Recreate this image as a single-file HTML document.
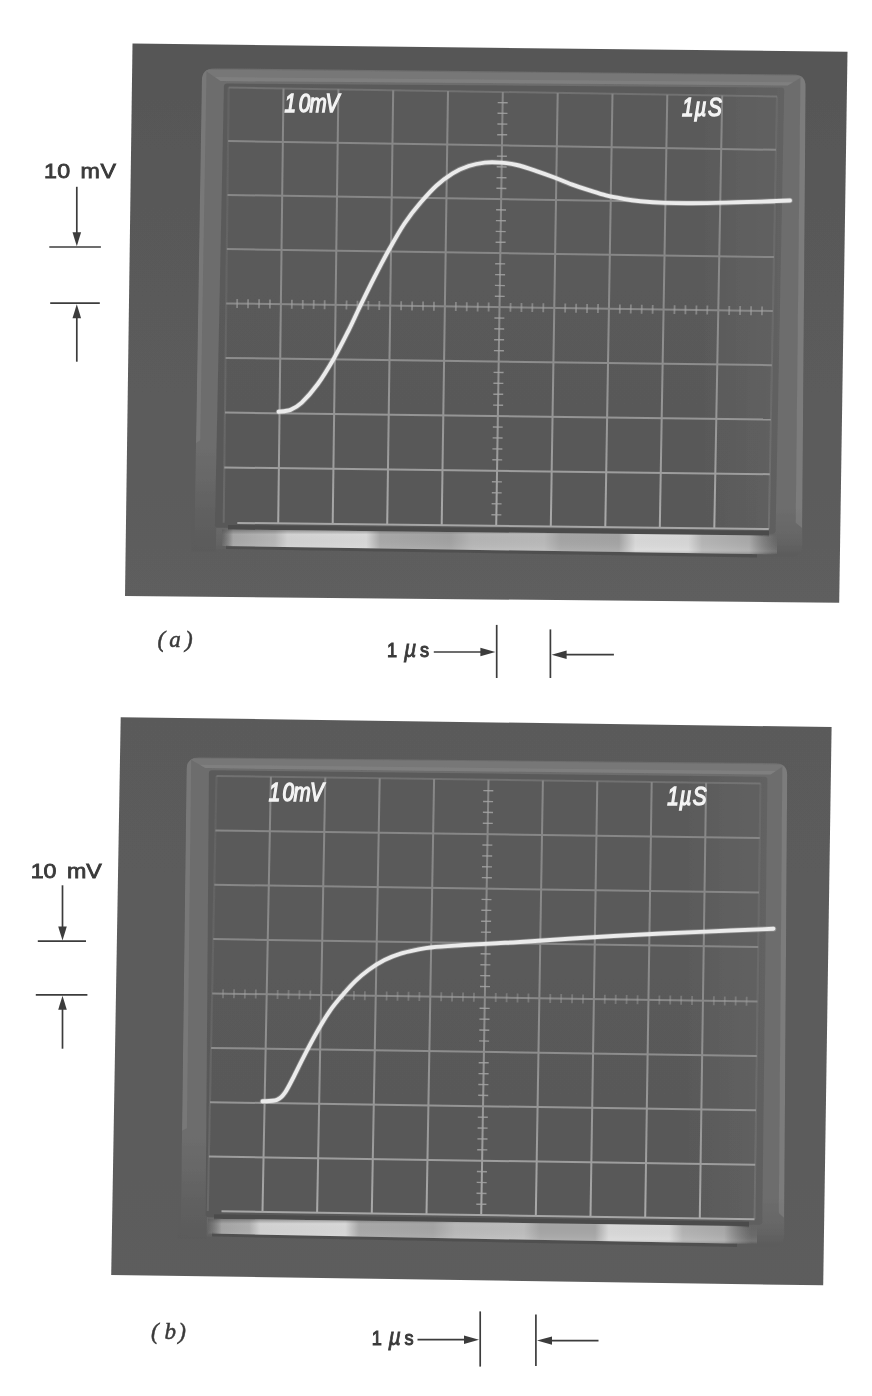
<!DOCTYPE html>
<html lang="en">
<head>
<meta charset="utf-8">
<title>Oscilloscope step responses (a) and (b)</title>
<style>
html,body{margin:0;padding:0;background:#fff;}
body{width:872px;height:1396px;overflow:hidden;position:relative;}
svg{display:block;position:absolute;left:0;top:0;}
.lab{font-family:"Liberation Sans",sans-serif;font-size:20.2px;fill:#3a3a3a;stroke:#3a3a3a;stroke-width:0.8px;}
.lab2{font-family:"Liberation Sans",sans-serif;font-size:20.2px;fill:#3a3a3a;stroke:#3a3a3a;stroke-width:1px;}
.ro{font-family:"Liberation Sans",sans-serif;font-style:italic;font-size:26.5px;fill:#f4f4f4;stroke:#f4f4f4;stroke-width:1.4px;}
.mu{font-style:italic;font-size:24px;stroke-width:0.8px;}
.cap{font-family:"Liberation Serif",serif;font-style:italic;font-size:23px;fill:#3a3a3a;stroke:#3a3a3a;stroke-width:0.5px;}
</style>
</head>
<body>
<svg width="872" height="1396" viewBox="0 0 872 1396">
<defs>
<linearGradient id="strip-a" x1="0" y1="0" x2="1" y2="0">
<stop offset="0" stop-color="#909090" stop-opacity="0"/>
<stop offset="0.02" stop-color="#a6a6a6"/>
<stop offset="0.095" stop-color="#b6b6b6"/>
<stop offset="0.118" stop-color="#d2d2d2"/>
<stop offset="0.26" stop-color="#d8d8d8"/>
<stop offset="0.285" stop-color="#a8a8a8"/>
<stop offset="0.41" stop-color="#a0a0a0"/>
<stop offset="0.45" stop-color="#b4b4b4"/>
<stop offset="0.58" stop-color="#b8b8b8"/>
<stop offset="0.61" stop-color="#a4a4a4"/>
<stop offset="0.715" stop-color="#a2a2a2"/>
<stop offset="0.745" stop-color="#d8d8d8"/>
<stop offset="0.84" stop-color="#d6d6d6"/>
<stop offset="0.865" stop-color="#b4b4b4"/>
<stop offset="0.95" stop-color="#a8a8a8"/>
<stop offset="1" stop-color="#8a8a8a" stop-opacity="0"/>
</linearGradient>
<linearGradient id="strip-b" x1="0" y1="0" x2="1" y2="0">
<stop offset="0" stop-color="#909090" stop-opacity="0"/>
<stop offset="0.025" stop-color="#a4a4a4"/>
<stop offset="0.075" stop-color="#aeaeae"/>
<stop offset="0.095" stop-color="#d2d2d2"/>
<stop offset="0.25" stop-color="#d8d8d8"/>
<stop offset="0.275" stop-color="#a8a8a8"/>
<stop offset="0.41" stop-color="#a4a4a4"/>
<stop offset="0.45" stop-color="#b8b8b8"/>
<stop offset="0.575" stop-color="#bcbcbc"/>
<stop offset="0.605" stop-color="#a4a4a4"/>
<stop offset="0.705" stop-color="#a4a4a4"/>
<stop offset="0.73" stop-color="#d8d8d8"/>
<stop offset="0.84" stop-color="#d6d6d6"/>
<stop offset="0.865" stop-color="#b2b2b2"/>
<stop offset="0.94" stop-color="#a8a8a8"/>
<stop offset="0.99" stop-color="#8a8a8a" stop-opacity="0"/>
</linearGradient>
<filter id="soft" x="-2%" y="-2%" width="104%" height="104%"><feGaussianBlur stdDeviation="0.55"/></filter>
<linearGradient id="stripv" x1="0" y1="0" x2="0" y2="1">
<stop offset="0" stop-color="#555" stop-opacity="0.55"/>
<stop offset="0.2" stop-color="#555" stop-opacity="0"/>
<stop offset="0.8" stop-color="#fff" stop-opacity="0.1"/>
<stop offset="1" stop-color="#555" stop-opacity="0.4"/>
</linearGradient>
</defs>

<g id="photo-a" filter="url(#soft)">
<defs>
<linearGradient id="paper-a" gradientUnits="userSpaceOnUse" x1="0" y1="43.6" x2="0" y2="602.8">
<stop offset="0" stop-color="#565656"/>
<stop offset="0.2861" stop-color="#595959"/>
<stop offset="0.7987" stop-color="#5c5c5c"/>
<stop offset="1" stop-color="#5e5e5e"/>
</linearGradient>
<linearGradient id="bezel-a" gradientUnits="userSpaceOnUse" x1="0" y1="68.3" x2="0" y2="557">
<stop offset="0" stop-color="#6d6d6d"/>
<stop offset="0.9" stop-color="#6d6d6d"/>
<stop offset="0.97" stop-color="#646464"/>
<stop offset="1" stop-color="#5a5a5a"/>
</linearGradient>
<linearGradient id="fade-a" gradientUnits="userSpaceOnUse" x1="0" y1="447" x2="0" y2="559"><stop offset="0" stop-color="#5c5c5c" stop-opacity="0"/><stop offset="0.6" stop-color="#5c5c5c" stop-opacity="0.75"/><stop offset="1" stop-color="#5a5a5a" stop-opacity="1"/></linearGradient>
<linearGradient id="screen-a" gradientUnits="userSpaceOnUse" x1="0" y1="83.5" x2="0" y2="533.8">
<stop offset="0" stop-color="#5a5a5a"/>
<stop offset="0.45" stop-color="#5a5a5a"/>
<stop offset="1" stop-color="#585858"/>
</linearGradient>
<linearGradient id="screenr-a" gradientUnits="userSpaceOnUse" x1="224" y1="0" x2="784.3" y2="0">
<stop offset="0" stop-color="#fff" stop-opacity="0"/>
<stop offset="0.85" stop-color="#fff" stop-opacity="0"/>
<stop offset="1" stop-color="#fff" stop-opacity="0.05"/>
</linearGradient>
</defs>
<polygon points="132.5,43.6 847.5,51.8 839.2,602.8 125,595.9" fill="url(#paper-a)"/>
<clipPath id="clip-a"><polygon points="132.5,43.6 847.5,51.8 839.2,602.8 125,595.9"/></clipPath>
<g clip-path="url(#clip-a)">
<path d="M201.9 80.3Q202.1 68.3 214.1 68.4L793.7 74.6Q805.7 74.7 805.6 86.7L802.1 545Q802 557 790 556.8L206.3 548.7Q194.3 548.5 194.5 536.5Z" fill="url(#bezel-a)"/>
<clipPath id="bezclip-a"><path d="M201.9 80.3Q202.1 68.3 214.1 68.4L793.7 74.6Q805.7 74.7 805.6 86.7L802.1 545Q802 557 790 556.8L206.3 548.7Q194.3 548.5 194.5 536.5Z"/></clipPath>
<g clip-path="url(#bezclip-a)">
<polygon points="203.9,69.5 804,75.7 787.7,85.5 220.5,81.1" fill="#777777"/>
<polygon points="214.8,77.1 793.3,82.2 787.7,85.5 220.5,81.1" fill="#8a8a8a" opacity="0.45"/>
<polygon points="202.1,68.3 196,442.9 200.2,440.3 206.5,71.3" fill="#8a8a8a" opacity="0.4"/>
<polygon points="805.7,74.7 802.2,528.1 795.7,522.8 800.4,77.9" fill="#8c8c8c" opacity="0.45"/>
</g>
<polygon points="191.3,438.5 217.8,438.5 215.8,551.5 191.3,551.5" fill="url(#fade-a)"/>
<path d="M223.9 86.5Q224 83.5 227 83.5L781.3 87.6Q784.3 87.6 784.2 90.6L775.6 530.8Q775.5 533.8 772.5 533.8L217.8 527.8Q214.8 527.8 214.9 524.8Z" fill="url(#screen-a)"/>
<path d="M223.9 86.5Q224 83.5 227 83.5L781.3 87.6Q784.3 87.6 784.2 90.6L775.6 530.8Q775.5 533.8 772.5 533.8L217.8 527.8Q214.8 527.8 214.9 524.8Z" fill="url(#screenr-a)"/>
<polygon points="228,525 769,531 769,536.5 228,530.5" fill="#4c4c4c"/>
<polygon points="226,545 757,553.5 757,557.5 226,549" fill="#505050"/>
<polygon points="222,529.5 777,535.5 777,554.5 222,546" fill="url(#strip-a)"/>
<polygon points="222,529.5 777,535.5 777,554.5 222,546" fill="url(#stripv)"/>
<linearGradient id="gridv-a" gradientUnits="userSpaceOnUse" x1="0" y1="87.5" x2="0" y2="529"><stop offset="0" stop-color="#878787"/><stop offset="0.5" stop-color="#8b8b8b"/><stop offset="0.8" stop-color="#999999"/><stop offset="1" stop-color="#aaaaaa"/></linearGradient>
<g stroke="#a2a2a2" stroke-width="2" fill="none"><line x1="228.7" y1="87.5" x2="223.7" y2="522.7" opacity="0.22" stroke="url(#gridv-a)"/><line x1="283.5" y1="88.4" x2="278.2" y2="523.3" opacity="1" stroke="url(#gridv-a)"/><line x1="338.4" y1="89.3" x2="332.7" y2="524" opacity="1" stroke="url(#gridv-a)"/><line x1="393.2" y1="90.2" x2="387.2" y2="524.6" opacity="1" stroke="url(#gridv-a)"/><line x1="448" y1="91.1" x2="441.7" y2="525.2" opacity="1" stroke="url(#gridv-a)"/><line x1="502.8" y1="92" x2="496.2" y2="525.9" opacity="1" stroke="url(#gridv-a)"/><line x1="557.7" y1="92.9" x2="550.8" y2="526.5" opacity="1" stroke="url(#gridv-a)"/><line x1="612.5" y1="93.8" x2="605.3" y2="527.1" opacity="1" stroke="url(#gridv-a)"/><line x1="667.3" y1="94.7" x2="659.8" y2="527.7" opacity="1" stroke="url(#gridv-a)"/><line x1="722.2" y1="95.6" x2="714.3" y2="528.4" opacity="1" stroke="url(#gridv-a)"/><line x1="777" y1="96.5" x2="768.8" y2="529" opacity="0.22" stroke="url(#gridv-a)"/><line x1="228.7" y1="87.5" x2="777" y2="96.5" opacity="0.5" stroke="#878787"/><line x1="228.1" y1="141.1" x2="776" y2="149.8" opacity="1" stroke="#878787"/><line x1="227.5" y1="195" x2="775" y2="203.3" opacity="1" stroke="#878787"/><line x1="226.8" y1="249.1" x2="774" y2="257.1" opacity="1" stroke="#878787"/><line x1="226.2" y1="303.4" x2="772.9" y2="311" opacity="1" stroke="#888888"/><line x1="225.6" y1="357.9" x2="771.9" y2="365.2" opacity="1" stroke="#8d8d8d"/><line x1="225" y1="412.6" x2="770.9" y2="419.6" opacity="1" stroke="#959595"/><line x1="224.3" y1="467.5" x2="769.8" y2="474.2" opacity="1" stroke="#9d9d9d"/><line x1="237.3" y1="522.9" x2="768.8" y2="529" opacity="1" stroke="#a6a6a6"/></g>
<g stroke="#a4a4a4" stroke-width="1.4" opacity="0.85"><line x1="497.7" y1="102.6" x2="507.7" y2="102.8"/><line x1="497.5" y1="113.3" x2="507.5" y2="113.4"/><line x1="497.4" y1="124" x2="507.4" y2="124.1"/><line x1="497.2" y1="134.7" x2="507.2" y2="134.8"/><line x1="496.9" y1="156.1" x2="506.9" y2="156.3"/><line x1="496.7" y1="166.8" x2="506.7" y2="167"/><line x1="496.6" y1="177.6" x2="506.5" y2="177.7"/><line x1="496.4" y1="188.3" x2="506.4" y2="188.5"/><line x1="496.1" y1="209.8" x2="506" y2="210"/><line x1="495.9" y1="220.6" x2="505.9" y2="220.8"/><line x1="495.7" y1="231.4" x2="505.7" y2="231.6"/><line x1="495.6" y1="242.2" x2="505.6" y2="242.3"/><line x1="495.2" y1="263.8" x2="505.2" y2="263.9"/><line x1="495.1" y1="274.6" x2="505.1" y2="274.8"/><line x1="494.9" y1="285.4" x2="504.9" y2="285.6"/><line x1="494.8" y1="296.3" x2="504.7" y2="296.4"/><line x1="494.4" y1="318" x2="504.4" y2="318.1"/><line x1="494.3" y1="328.8" x2="504.2" y2="329"/><line x1="494.1" y1="339.7" x2="504.1" y2="339.8"/><line x1="493.9" y1="350.6" x2="503.9" y2="350.7"/><line x1="493.6" y1="372.4" x2="503.6" y2="372.5"/><line x1="493.4" y1="383.3" x2="503.4" y2="383.4"/><line x1="493.3" y1="394.2" x2="503.2" y2="394.3"/><line x1="493.1" y1="405.1" x2="503.1" y2="405.2"/><line x1="492.8" y1="427" x2="502.7" y2="427.1"/><line x1="492.6" y1="437.9" x2="502.6" y2="438"/><line x1="492.4" y1="448.9" x2="502.4" y2="449"/><line x1="492.3" y1="459.8" x2="502.2" y2="459.9"/><line x1="491.9" y1="481.8" x2="501.9" y2="481.9"/><line x1="491.8" y1="492.8" x2="501.7" y2="492.9"/><line x1="491.6" y1="503.8" x2="501.6" y2="503.9"/><line x1="491.4" y1="514.8" x2="501.4" y2="514.9"/></g>
<g stroke="#a4a4a4" stroke-width="1.8" opacity="0.6"><line x1="237.2" y1="299" x2="237.1" y2="308"/><line x1="248.1" y1="299.2" x2="248" y2="308.2"/><line x1="259.1" y1="299.3" x2="259" y2="308.3"/><line x1="270" y1="299.5" x2="269.9" y2="308.5"/><line x1="291.9" y1="299.8" x2="291.8" y2="308.8"/><line x1="302.8" y1="299.9" x2="302.7" y2="308.9"/><line x1="313.8" y1="300.1" x2="313.6" y2="309.1"/><line x1="324.7" y1="300.2" x2="324.6" y2="309.2"/><line x1="346.6" y1="300.6" x2="346.4" y2="309.5"/><line x1="357.5" y1="300.7" x2="357.4" y2="309.7"/><line x1="368.4" y1="300.9" x2="368.3" y2="309.8"/><line x1="379.4" y1="301" x2="379.2" y2="310"/><line x1="401.2" y1="301.3" x2="401.1" y2="310.3"/><line x1="412.2" y1="301.5" x2="412" y2="310.5"/><line x1="423.1" y1="301.6" x2="423" y2="310.6"/><line x1="434" y1="301.8" x2="433.9" y2="310.8"/><line x1="455.9" y1="302.1" x2="455.8" y2="311.1"/><line x1="466.8" y1="302.2" x2="466.7" y2="311.2"/><line x1="477.8" y1="302.4" x2="477.6" y2="311.4"/><line x1="488.7" y1="302.6" x2="488.6" y2="311.5"/><line x1="510.6" y1="302.9" x2="510.4" y2="311.8"/><line x1="521.5" y1="303" x2="521.4" y2="312"/><line x1="532.4" y1="303.2" x2="532.3" y2="312.1"/><line x1="543.4" y1="303.3" x2="543.2" y2="312.3"/><line x1="565.3" y1="303.6" x2="565.1" y2="312.6"/><line x1="576.2" y1="303.8" x2="576" y2="312.7"/><line x1="587.1" y1="303.9" x2="587" y2="312.9"/><line x1="598.1" y1="304.1" x2="597.9" y2="313.1"/><line x1="619.9" y1="304.4" x2="619.8" y2="313.4"/><line x1="630.9" y1="304.5" x2="630.7" y2="313.5"/><line x1="641.8" y1="304.7" x2="641.6" y2="313.7"/><line x1="652.7" y1="304.9" x2="652.6" y2="313.8"/><line x1="674.6" y1="305.2" x2="674.4" y2="314.1"/><line x1="685.5" y1="305.3" x2="685.4" y2="314.3"/><line x1="696.5" y1="305.5" x2="696.3" y2="314.4"/><line x1="707.4" y1="305.6" x2="707.2" y2="314.6"/><line x1="729.3" y1="305.9" x2="729.1" y2="314.9"/><line x1="740.2" y1="306.1" x2="740" y2="315"/><line x1="751.1" y1="306.2" x2="751" y2="315.2"/><line x1="762.1" y1="306.4" x2="761.9" y2="315.3"/></g>
<path d="M278.6 411.7C280.6 411.4 286.6 411.4 290.5 409.9C294.4 408.4 297.1 407 301.7 402.7C306.2 398.4 312.4 391.4 317.8 384C323.2 376.6 328.8 367.2 333.9 358.4C339 349.6 344 339.5 348.3 331C352.6 322.5 355.2 316.3 359.5 307.5C363.8 298.7 369.2 287.4 374 278C378.8 268.6 383.3 259.9 388.4 250.8C393.5 241.7 399.1 231.5 404.5 223.5C409.9 215.5 415.2 208.9 420.6 202.6C426 196.3 431.2 190.4 436.6 185.5C442 180.6 447.4 176.6 452.7 173.3C458 170.1 463.3 167.8 468.7 166C474.1 164.2 479.4 163.2 484.8 162.6C490.2 162 495.5 162.2 500.8 162.6C506.1 163 510.8 163.6 516.9 165C523 166.4 531 169.2 537.2 171.3C543.5 173.4 548.7 175.3 554.4 177.5C560.1 179.7 565.9 182.3 571.6 184.4C577.3 186.5 583.1 188.4 588.8 190.2C594.5 192 600.3 194 606 195.4C611.7 196.8 617.5 197.8 623.2 198.8C628.9 199.8 633.5 200.5 640.4 201.2C647.3 201.9 655.9 202.6 664.5 202.9C673.1 203.2 681.7 203.4 692 203.3C702.3 203.2 714.9 202.9 726.4 202.6C737.9 202.3 750.2 201.9 760.8 201.6C771.4 201.2 785.1 200.7 790 200.5" fill="none" stroke="#dcdcdc" stroke-opacity="0.3" stroke-width="5.6" stroke-linecap="round"/>
<path d="M278.6 411.7C280.6 411.4 286.6 411.4 290.5 409.9C294.4 408.4 297.1 407 301.7 402.7C306.2 398.4 312.4 391.4 317.8 384C323.2 376.6 328.8 367.2 333.9 358.4C339 349.6 344 339.5 348.3 331C352.6 322.5 355.2 316.3 359.5 307.5C363.8 298.7 369.2 287.4 374 278C378.8 268.6 383.3 259.9 388.4 250.8C393.5 241.7 399.1 231.5 404.5 223.5C409.9 215.5 415.2 208.9 420.6 202.6C426 196.3 431.2 190.4 436.6 185.5C442 180.6 447.4 176.6 452.7 173.3C458 170.1 463.3 167.8 468.7 166C474.1 164.2 479.4 163.2 484.8 162.6C490.2 162 495.5 162.2 500.8 162.6C506.1 163 510.8 163.6 516.9 165C523 166.4 531 169.2 537.2 171.3C543.5 173.4 548.7 175.3 554.4 177.5C560.1 179.7 565.9 182.3 571.6 184.4C577.3 186.5 583.1 188.4 588.8 190.2C594.5 192 600.3 194 606 195.4C611.7 196.8 617.5 197.8 623.2 198.8C628.9 199.8 633.5 200.5 640.4 201.2C647.3 201.9 655.9 202.6 664.5 202.9C673.1 203.2 681.7 203.4 692 203.3C702.3 203.2 714.9 202.9 726.4 202.6C737.9 202.3 750.2 201.9 760.8 201.6C771.4 201.2 785.1 200.7 790 200.5" fill="none" stroke="#ebebeb" stroke-width="3.9" stroke-linecap="round"/>
<text class="ro" transform="translate(0 112.1) scale(0.78 1)" x="364.85 383.02 396.68 417.46" y="0">10mV</text>
<text class="ro" transform="translate(0 115.7) scale(0.78 1)" x="874.46 890.31 907.67" y="0">1µS</text>
</g>
</g>
<g id="photo-b" filter="url(#soft)">
<defs>
<linearGradient id="paper-b" gradientUnits="userSpaceOnUse" x1="0" y1="717.2" x2="0" y2="1285.3">
<stop offset="0" stop-color="#5a5a5a"/>
<stop offset="0.2816" stop-color="#5b5b5b"/>
<stop offset="0.8126" stop-color="#5c5c5c"/>
<stop offset="1" stop-color="#5d5d5d"/>
</linearGradient>
<linearGradient id="bezel-b" gradientUnits="userSpaceOnUse" x1="0" y1="757.3" x2="0" y2="1247">
<stop offset="0" stop-color="#6d6d6d"/>
<stop offset="0.9" stop-color="#6d6d6d"/>
<stop offset="0.97" stop-color="#646464"/>
<stop offset="1" stop-color="#5a5a5a"/>
</linearGradient>
<linearGradient id="fade-b" gradientUnits="userSpaceOnUse" x1="0" y1="1137" x2="0" y2="1249"><stop offset="0" stop-color="#5c5c5c" stop-opacity="0"/><stop offset="0.6" stop-color="#5c5c5c" stop-opacity="0.75"/><stop offset="1" stop-color="#5a5a5a" stop-opacity="1"/></linearGradient>
<linearGradient id="screen-b" gradientUnits="userSpaceOnUse" x1="0" y1="770.2" x2="0" y2="1224.8">
<stop offset="0" stop-color="#5a5a5a"/>
<stop offset="0.45" stop-color="#5a5a5a"/>
<stop offset="1" stop-color="#585858"/>
</linearGradient>
<linearGradient id="screenr-b" gradientUnits="userSpaceOnUse" x1="208.9" y1="0" x2="767.4" y2="0">
<stop offset="0" stop-color="#fff" stop-opacity="0"/>
<stop offset="0.85" stop-color="#fff" stop-opacity="0"/>
<stop offset="1" stop-color="#fff" stop-opacity="0.05"/>
</linearGradient>
</defs>
<polygon points="120.7,717.2 831.6,727.1 823.2,1285.3 111.2,1275" fill="url(#paper-b)"/>
<clipPath id="clip-b"><polygon points="120.7,717.2 831.6,727.1 823.2,1285.3 111.2,1275"/></clipPath>
<g clip-path="url(#clip-b)">
<path d="M186.6 769.3Q186.8 757.3 198.8 757.4L775.3 763.2Q787.3 763.3 787.2 775.3L784.1 1235Q784 1247 772 1246.8L192.7 1236.2Q180.7 1236 180.9 1224Z" fill="url(#bezel-b)"/>
<clipPath id="bezclip-b"><path d="M186.6 769.3Q186.8 757.3 198.8 757.4L775.3 763.2Q787.3 763.3 787.2 775.3L784.1 1235Q784 1247 772 1246.8L192.7 1236.2Q180.7 1236 180.9 1224Z"/></clipPath>
<g clip-path="url(#bezclip-b)">
<polygon points="188.6,758.3 785.7,764.4 770.6,774.6 205.4,768.1" fill="#777777"/>
<polygon points="199.6,764.8 775.8,771.1 770.6,774.6 205.4,768.1" fill="#8a8a8a" opacity="0.45"/>
<polygon points="186.8,757.3 182,1130.7 186.9,1128.3 191.2,759.9" fill="#8a8a8a" opacity="0.4"/>
<polygon points="787.3,763.3 784.2,1218 778.8,1213 782.3,766.7" fill="#8c8c8c" opacity="0.45"/>
</g>
<polygon points="177.7,1126 208.6,1126 206.6,1239 177.7,1239" fill="url(#fade-b)"/>
<path d="M208.9 773.2Q208.9 770.2 211.9 770.2L764.4 776.8Q767.4 776.8 767.4 779.8L762.3 1221.8Q762.3 1224.8 759.3 1224.8L208.6 1217.2Q205.6 1217.2 205.6 1214.2Z" fill="url(#screen-b)"/>
<path d="M208.9 773.2Q208.9 770.2 211.9 770.2L764.4 776.8Q767.4 776.8 767.4 779.8L762.3 1221.8Q762.3 1224.8 759.3 1224.8L208.6 1217.2Q205.6 1217.2 205.6 1214.2Z" fill="url(#screenr-b)"/>
<polygon points="214,1214.2 749,1221.7 749,1227.2 214,1219.7" fill="#4c4c4c"/>
<polygon points="212,1232.6 737,1243.1 737,1247.1 212,1236.6" fill="#505050"/>
<polygon points="208,1218.7 757,1226.2 757,1244.1 208,1233.6" fill="url(#strip-b)"/>
<polygon points="208,1218.7 757,1226.2 757,1244.1 208,1233.6" fill="url(#stripv)"/>
<linearGradient id="gridv-b" gradientUnits="userSpaceOnUse" x1="0" y1="776" x2="0" y2="1219.3"><stop offset="0" stop-color="#878787"/><stop offset="0.5" stop-color="#8b8b8b"/><stop offset="0.8" stop-color="#999999"/><stop offset="1" stop-color="#aaaaaa"/></linearGradient>
<g stroke="#a2a2a2" stroke-width="2" fill="none"><line x1="216.5" y1="776" x2="207.8" y2="1211" opacity="0.22" stroke="url(#gridv-b)"/><line x1="270.9" y1="776.8" x2="262.5" y2="1211.8" opacity="1" stroke="url(#gridv-b)"/><line x1="325.3" y1="777.5" x2="317.1" y2="1212.7" opacity="1" stroke="url(#gridv-b)"/><line x1="379.7" y1="778.2" x2="371.8" y2="1213.5" opacity="1" stroke="url(#gridv-b)"/><line x1="434.1" y1="779" x2="426.5" y2="1214.3" opacity="1" stroke="url(#gridv-b)"/><line x1="488.5" y1="779.8" x2="481.2" y2="1215.2" opacity="1" stroke="url(#gridv-b)"/><line x1="542.9" y1="780.5" x2="535.8" y2="1216" opacity="1" stroke="url(#gridv-b)"/><line x1="597.3" y1="781.2" x2="590.5" y2="1216.8" opacity="1" stroke="url(#gridv-b)"/><line x1="651.7" y1="782" x2="645.2" y2="1217.6" opacity="1" stroke="url(#gridv-b)"/><line x1="706.1" y1="782.8" x2="699.8" y2="1218.5" opacity="1" stroke="url(#gridv-b)"/><line x1="760.5" y1="783.5" x2="754.5" y2="1219.3" opacity="0.22" stroke="url(#gridv-b)"/><line x1="216.5" y1="776" x2="760.5" y2="783.5" opacity="0.5" stroke="#878787"/><line x1="215.4" y1="830.4" x2="759.8" y2="838" opacity="1" stroke="#878787"/><line x1="214.3" y1="884.8" x2="759" y2="892.5" opacity="1" stroke="#878787"/><line x1="213.2" y1="939.1" x2="758.2" y2="946.9" opacity="1" stroke="#878787"/><line x1="212.2" y1="993.5" x2="757.5" y2="1001.4" opacity="1" stroke="#888888"/><line x1="211.1" y1="1047.9" x2="756.8" y2="1055.9" opacity="1" stroke="#8d8d8d"/><line x1="210" y1="1102.2" x2="756" y2="1110.3" opacity="1" stroke="#959595"/><line x1="208.9" y1="1156.6" x2="755.2" y2="1164.8" opacity="1" stroke="#9d9d9d"/><line x1="221.5" y1="1211.2" x2="754.5" y2="1219.3" opacity="1" stroke="#a6a6a6"/></g>
<g stroke="#a4a4a4" stroke-width="1.4" opacity="0.85"><line x1="483.3" y1="790.6" x2="493.3" y2="790.7"/><line x1="483.1" y1="801.5" x2="493.1" y2="801.6"/><line x1="482.9" y1="812.3" x2="493" y2="812.5"/><line x1="482.8" y1="823.2" x2="492.8" y2="823.4"/><line x1="482.4" y1="845" x2="492.4" y2="845.1"/><line x1="482.2" y1="855.9" x2="492.2" y2="856"/><line x1="482" y1="866.8" x2="492" y2="866.9"/><line x1="481.8" y1="877.6" x2="491.9" y2="877.8"/><line x1="481.5" y1="899.4" x2="491.5" y2="899.6"/><line x1="481.3" y1="910.3" x2="491.3" y2="910.4"/><line x1="481.1" y1="921.2" x2="491.1" y2="921.3"/><line x1="480.9" y1="932.1" x2="490.9" y2="932.2"/><line x1="480.6" y1="953.8" x2="490.6" y2="954"/><line x1="480.4" y1="964.7" x2="490.4" y2="964.9"/><line x1="480.2" y1="975.6" x2="490.2" y2="975.8"/><line x1="480" y1="986.5" x2="490" y2="986.6"/><line x1="479.6" y1="1008.3" x2="489.7" y2="1008.4"/><line x1="479.4" y1="1019.1" x2="489.5" y2="1019.3"/><line x1="479.3" y1="1030" x2="489.3" y2="1030.2"/><line x1="479.1" y1="1040.9" x2="489.1" y2="1041.1"/><line x1="478.7" y1="1062.7" x2="488.7" y2="1062.8"/><line x1="478.5" y1="1073.6" x2="488.6" y2="1073.7"/><line x1="478.3" y1="1084.5" x2="488.4" y2="1084.6"/><line x1="478.2" y1="1095.3" x2="488.2" y2="1095.5"/><line x1="477.8" y1="1117.1" x2="487.8" y2="1117.3"/><line x1="477.6" y1="1128" x2="487.6" y2="1128.1"/><line x1="477.4" y1="1138.9" x2="487.5" y2="1139"/><line x1="477.2" y1="1149.8" x2="487.3" y2="1149.9"/><line x1="476.9" y1="1171.5" x2="486.9" y2="1171.7"/><line x1="476.7" y1="1182.4" x2="486.7" y2="1182.6"/><line x1="476.5" y1="1193.3" x2="486.5" y2="1193.5"/><line x1="476.3" y1="1204.2" x2="486.4" y2="1204.3"/></g>
<g stroke="#a4a4a4" stroke-width="1.8" opacity="0.42"><line x1="223.1" y1="989.2" x2="223" y2="998.2"/><line x1="234.1" y1="989.3" x2="233.9" y2="998.3"/><line x1="245" y1="989.5" x2="244.8" y2="998.5"/><line x1="255.9" y1="989.6" x2="255.7" y2="998.6"/><line x1="277.7" y1="989.9" x2="277.5" y2="998.9"/><line x1="288.6" y1="990.1" x2="288.4" y2="999.1"/><line x1="299.5" y1="990.3" x2="299.3" y2="999.3"/><line x1="310.4" y1="990.4" x2="310.2" y2="999.4"/><line x1="332.2" y1="990.7" x2="332" y2="999.7"/><line x1="343.1" y1="990.9" x2="343" y2="999.9"/><line x1="354" y1="991.1" x2="353.9" y2="1000.1"/><line x1="364.9" y1="991.2" x2="364.8" y2="1000.2"/><line x1="386.7" y1="991.5" x2="386.6" y2="1000.5"/><line x1="397.6" y1="991.7" x2="397.5" y2="1000.7"/><line x1="408.6" y1="991.8" x2="408.4" y2="1000.8"/><line x1="419.5" y1="992" x2="419.3" y2="1001"/><line x1="441.3" y1="992.3" x2="441.1" y2="1001.3"/><line x1="452.2" y1="992.5" x2="452" y2="1001.5"/><line x1="463.1" y1="992.6" x2="462.9" y2="1001.6"/><line x1="474" y1="992.8" x2="473.8" y2="1001.8"/><line x1="495.8" y1="993.1" x2="495.7" y2="1002.1"/><line x1="506.7" y1="993.3" x2="506.6" y2="1002.3"/><line x1="517.6" y1="993.4" x2="517.5" y2="1002.4"/><line x1="528.5" y1="993.6" x2="528.4" y2="1002.6"/><line x1="550.3" y1="993.9" x2="550.2" y2="1002.9"/><line x1="561.2" y1="994.1" x2="561.1" y2="1003.1"/><line x1="572.2" y1="994.2" x2="572" y2="1003.2"/><line x1="583.1" y1="994.4" x2="582.9" y2="1003.4"/><line x1="604.9" y1="994.7" x2="604.7" y2="1003.7"/><line x1="615.8" y1="994.8" x2="615.6" y2="1003.9"/><line x1="626.7" y1="995" x2="626.5" y2="1004"/><line x1="637.6" y1="995.2" x2="637.5" y2="1004.2"/><line x1="659.4" y1="995.5" x2="659.3" y2="1004.5"/><line x1="670.3" y1="995.6" x2="670.2" y2="1004.6"/><line x1="681.2" y1="995.8" x2="681.1" y2="1004.8"/><line x1="692.1" y1="995.9" x2="692" y2="1005"/><line x1="713.9" y1="996.3" x2="713.8" y2="1005.3"/><line x1="724.8" y1="996.4" x2="724.7" y2="1005.4"/><line x1="735.7" y1="996.6" x2="735.6" y2="1005.6"/><line x1="746.7" y1="996.7" x2="746.5" y2="1005.8"/></g>
<path d="M262.5 1101.3C264.9 1101.1 273.1 1101.3 276.9 1099.9C280.6 1098.5 282.1 1096.9 285 1092.7C287.9 1088.5 291.4 1081.2 294.6 1075C297.8 1068.8 300.4 1063 304.2 1055.8C307.9 1048.6 312.8 1039.2 317.1 1031.7C321.4 1024.2 325.6 1017 329.9 1010.8C334.2 1004.6 338.5 999.7 342.8 994.7C347.1 989.7 351.3 984.9 355.6 980.8C359.9 976.7 363.7 973.5 368.5 970C373.3 966.5 379.1 962.7 384.5 960C389.9 957.3 395.2 955.3 400.6 953.6C406 951.9 411.2 950.9 416.6 949.8C422 948.7 424.7 948 432.7 947.2C440.7 946.4 454.1 945.7 464.8 945C475.5 944.3 487.7 943.7 496.9 943.2C506.1 942.7 508 942.8 520 942C532 941.2 549.2 939.9 568.8 938.7C588.4 937.5 614.7 935.9 637.6 934.7C660.5 933.5 683.8 932.6 706.4 931.6C729 930.6 762.3 929.3 773.5 928.8" fill="none" stroke="#dcdcdc" stroke-opacity="0.3" stroke-width="5.6" stroke-linecap="round"/>
<path d="M262.5 1101.3C264.9 1101.1 273.1 1101.3 276.9 1099.9C280.6 1098.5 282.1 1096.9 285 1092.7C287.9 1088.5 291.4 1081.2 294.6 1075C297.8 1068.8 300.4 1063 304.2 1055.8C307.9 1048.6 312.8 1039.2 317.1 1031.7C321.4 1024.2 325.6 1017 329.9 1010.8C334.2 1004.6 338.5 999.7 342.8 994.7C347.1 989.7 351.3 984.9 355.6 980.8C359.9 976.7 363.7 973.5 368.5 970C373.3 966.5 379.1 962.7 384.5 960C389.9 957.3 395.2 955.3 400.6 953.6C406 951.9 411.2 950.9 416.6 949.8C422 948.7 424.7 948 432.7 947.2C440.7 946.4 454.1 945.7 464.8 945C475.5 944.3 487.7 943.7 496.9 943.2C506.1 942.7 508 942.8 520 942C532 941.2 549.2 939.9 568.8 938.7C588.4 937.5 614.7 935.9 637.6 934.7C660.5 933.5 683.8 932.6 706.4 931.6C729 930.6 762.3 929.3 773.5 928.8" fill="none" stroke="#ebebeb" stroke-width="3.9" stroke-linecap="round"/>
<text class="ro" transform="translate(0 800.7) scale(0.78 1)" x="344.72 362.25 376.3 397.4" y="0">10mV</text>
<text class="ro" transform="translate(0 804.8) scale(0.78 1)" x="855.49 871.08 888.12" y="0">1µS</text>
</g>
</g>
<g id="labels">
<text class="lab" transform="translate(0 177.7) scale(1.15 1)" x="38.17 49.77 59.89 70.02 87.29" y="0">10 mV</text>
<g stroke="#3c3c3c" stroke-width="1.7" fill="#3c3c3c">
<line x1="76.8" y1="186.8" x2="76.8" y2="238.2"/>
<polygon stroke="none" points="76.8,246.2 72.5,232.2 81.1,232.2"/>
<line x1="49.3" y1="247" x2="100.9" y2="247"/>
<line x1="50.2" y1="303.2" x2="99.8" y2="303.2"/>
<polygon stroke="none" points="76.8,304.2 72.5,318.2 81.1,318.2"/>
<line x1="76.8" y1="312.2" x2="76.8" y2="361.7"/>
</g>
<text class="lab" transform="translate(0 878.1) scale(1.15 1)" x="26.74 37.9 48.13 58.37 75.12" y="0">10 mV</text>
<g stroke="#3c3c3c" stroke-width="1.7" fill="#3c3c3c">
<line x1="62.5" y1="885.3" x2="62.5" y2="932.4"/>
<polygon stroke="none" points="62.5,940.4 58.2,926.4 66.8,926.4"/>
<line x1="37.8" y1="941.2" x2="86" y2="941.2"/>
<line x1="35.8" y1="994.8" x2="87.4" y2="994.8"/>
<polygon stroke="none" points="62.5,995.8 58.2,1009.8 66.8,1009.8"/>
<line x1="62.5" y1="1003.8" x2="62.5" y2="1048.7"/>
</g>
<text class="lab2" transform="translate(0 656.9) scale(0.9 1)" y="0"><tspan x="429.9 439.37">1 </tspan><tspan class="mu" x="448.85">µ</tspan><tspan x="466.62">s</tspan></text>
<g stroke="#3c3c3c" stroke-width="1.7" fill="#3c3c3c">
<line x1="433.8" y1="652" x2="487.4" y2="652"/>
<polygon stroke="none" points="495.4,652 480.4,647.8 480.4,656.2"/>
<line x1="496.7" y1="624.9" x2="496.7" y2="678"/>
<line x1="550.4" y1="629.4" x2="550.4" y2="678"/>
<polygon stroke="none" points="551.6,654.7 566.6,650.5 566.6,658.9"/>
<line x1="559.6" y1="654.7" x2="613.9" y2="654.7"/>
</g>
<text class="lab2" transform="translate(0 1344.6) scale(0.9 1)" y="0"><tspan x="413.07 422.38">1 </tspan><tspan class="mu" x="431.68">µ</tspan><tspan x="449.57">s</tspan></text>
<g stroke="#3c3c3c" stroke-width="1.7" fill="#3c3c3c">
<line x1="417.5" y1="1339.7" x2="471" y2="1339.7"/>
<polygon stroke="none" points="479,1339.7 464,1335.5 464,1343.9"/>
<line x1="480.2" y1="1311.4" x2="480.2" y2="1366.6"/>
<line x1="535.9" y1="1314.4" x2="535.9" y2="1366"/>
<polygon stroke="none" points="537,1340.6 552,1336.4 552,1344.8"/>
<line x1="545" y1="1340.6" x2="598.5" y2="1340.6"/>
</g>
<text class="cap" x="157.55 169.35 185.03" y="647.1">(a)</text>
<text class="cap" x="150.95 164.53 178.32" y="1339.4">(b)</text>
</g>
</svg>
</body>
</html>
